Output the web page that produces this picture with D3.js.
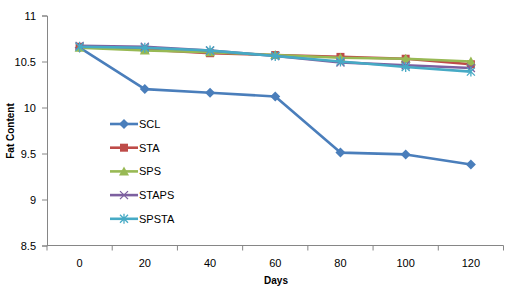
<!DOCTYPE html>
<html>
<head>
<meta charset="utf-8">
<script src="https://cdn.jsdelivr.net/npm/d3@7/dist/d3.min.js"></script>
<style>
  body { margin: 0; background: #fff; }
  svg text { font-family: "Liberation Sans", Arial, sans-serif; fill: #000; }
</style>
</head>
<body>
<svg id="chart" width="520" height="295"></svg>
<script>
// data
var days = ["0", "20", "40", "60", "80", "100", "120"];
var sclValues   = [10.65, 10.20, 10.16, 10.12, 9.51, 9.49, 9.38];
var staValues   = [10.66, 10.63, 10.59, 10.57, 10.55, 10.53, 10.47];
var spsValues   = [10.65, 10.62, 10.60, 10.57, 10.54, 10.53, 10.50];
var stapsValues = [10.67, 10.66, 10.62, 10.56, 10.49, 10.46, 10.43];
var spstaValues = [10.66, 10.65, 10.62, 10.56, 10.50, 10.44, 10.39];
var yTicks = [8.5, 9, 9.5, 10, 10.5, 11];

var series = [
    { name: "SCL",   values: sclValues,   color: "#4A7EBB", marker: "diamond" },
    { name: "STA",   values: staValues,   color: "#BE4B48", marker: "square" },
    { name: "SPS",   values: spsValues,   color: "#98B954", marker: "triangle" },
    { name: "STAPS", values: stapsValues, color: "#7D60A0", marker: "cross" },
    { name: "SPSTA", values: spstaValues, color: "#46AAC5", marker: "star" }
];

var svg = d3.select("#chart");
// plot area edges (window.top is reserved, so use other names)
var plotLeft = 47, plotRight = 503.5, plotTop = 15.5, plotBottom = 245.5;

var x = d3.scaleBand().domain(days).range([plotLeft, plotRight]);
var y = d3.scaleLinear().domain([8.5, 11]).range([plotBottom, plotTop]);

// y axis
var yAxis = svg.append("g")
    .attr("transform", "translate(" + plotLeft + ",0)")
    .call(d3.axisLeft(y).tickValues(yTicks).tickSize(5).tickPadding(6).tickFormat(d3.format("")));
yAxis.selectAll("path, line").attr("stroke", "#868686");
yAxis.selectAll("text").style("font-size", "11px");

// x axis, ticks between categories
var xAxis = svg.append("g")
    .attr("transform", "translate(0," + plotBottom + ")");
xAxis.append("line")
    .attr("x1", plotLeft).attr("x2", plotRight)
    .attr("stroke", "#868686");
var edges = days.map(function(d) { return x(d); }).concat([plotRight]);
xAxis.selectAll("line.tick")
    .data(edges)
    .enter()
    .append("line")
    .attr("class", "tick")
    .attr("x1", d => d).attr("x2", d => d)
    .attr("y1", 0).attr("y2", 5)
    .attr("stroke", "#868686");
xAxis.selectAll("text")
    .data(days)
    .enter()
    .append("text")
    .attr("x", d => x(d) + x.bandwidth() / 2)
    .attr("y", 21)
    .attr("text-anchor", "middle")
    .style("font-size", "11px")
    .text(d => d);

// axis titles
svg.append("text")
    .attr("x", 276).attr("y", 284)
    .attr("text-anchor", "middle")
    .style("font-size", "10px").style("font-weight", "bold")
    .text("Days");
svg.append("text")
    .attr("transform", "translate(14,131) rotate(-90)")
    .attr("text-anchor", "middle")
    .style("font-size", "10px").style("font-weight", "bold")
    .text("Fat Content");

function drawMarker(g, type, color) {
    if (type == "diamond") {
        g.append("path").attr("d", "M0,-5L5,0L0,5L-5,0Z").attr("fill", color);
    } else if (type == "square") {
        g.append("rect").attr("x", -4).attr("y", -4).attr("width", 8).attr("height", 8).attr("fill", color);
    } else if (type == "triangle") {
        g.append("path").attr("d", "M0,-5L5,4L-5,4Z").attr("fill", color);
    } else if (type == "cross") {
        g.append("path").attr("d", "M-4,-4L4,4M-4,4L4,-4")
            .attr("stroke", color).attr("stroke-width", 1.3).attr("fill", "none");
    } else if (type == "star") {
        g.append("path").attr("d", "M-4,-4L4,4M-4,4L4,-4M0,-5L0,5")
            .attr("stroke", color).attr("stroke-width", 1.3).attr("fill", "none");
    }
}

var line = d3.line()
    .x((d, i) => x(days[i]) + x.bandwidth() / 2)
    .y(d => y(d));

series.forEach(function(s) {
    var g = svg.append("g");
    g.append("path")
        .attr("d", line(s.values))
        .attr("fill", "none")
        .attr("stroke", s.color)
        .attr("stroke-width", 2.6)
        .attr("stroke-linejoin", "round");
    s.values.forEach(function(v, i) {
        var m = g.append("g")
            .attr("transform", "translate(" + (x(days[i]) + x.bandwidth() / 2) + "," + y(v) + ")");
        drawMarker(m, s.marker, s.color);
    });
});

// legend
var legend = svg.append("g").attr("transform", "translate(110,124)");
series.forEach(function(s, i) {
    var row = legend.append("g").attr("transform", "translate(0," + (i * 23.7) + ")");
    row.append("line")
        .attr("x1", 0).attr("x2", 28)
        .attr("stroke", s.color).attr("stroke-width", 2.6);
    var m = row.append("g").attr("transform", "translate(14,0)");
    drawMarker(m, s.marker, s.color);
    row.append("text")
        .attr("x", 29).attr("y", 4)
        .style("font-size", "11px")
        .text(s.name);
});
</script>
</body>
</html>
